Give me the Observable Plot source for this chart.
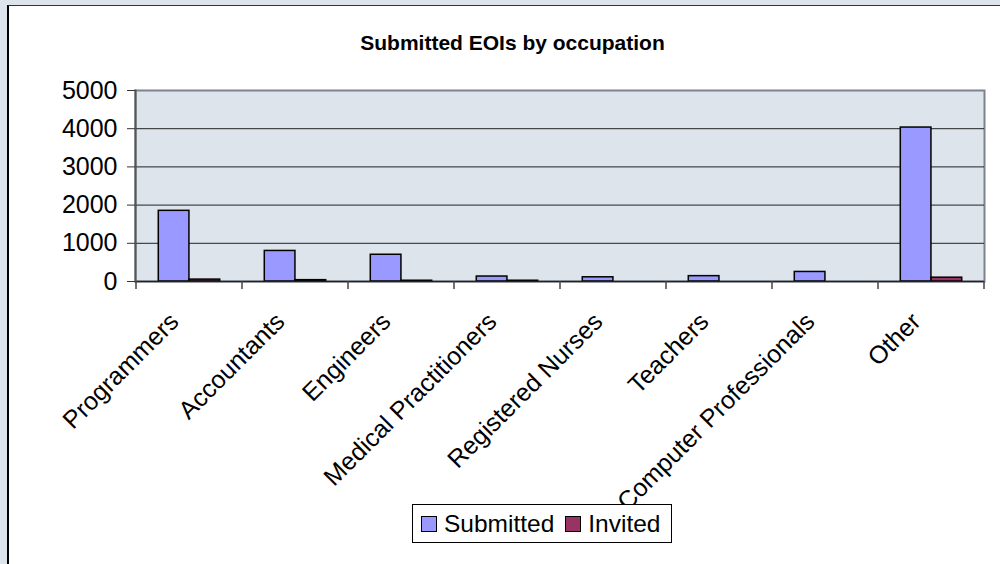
<!DOCTYPE html>
<html>
<head>
<meta charset="utf-8">
<script src="https://cdn.jsdelivr.net/npm/d3@7"></script>
<script src="https://cdn.jsdelivr.net/npm/@observablehq/plot@0.6"></script>
<style>
  html, body { margin: 0; padding: 0; }
  body { width: 1000px; height: 564px; overflow: hidden; background: #dee4ec; position: relative; font-family: "Liberation Sans", Arial, sans-serif; }
  #panel { position: absolute; left: 7px; top: 5px; width: 1100px; height: 700px; background: #fff; border-left: 2px solid #000; border-top: 1.5px solid #333; }
  #title { position: absolute; left: 0; top: 31px; width: 1025px; text-align: center; font-weight: bold; font-size: 21px; line-height: 24px; color: #000; }
  #chart { position: absolute; left: 0; top: 0; }
  #legend { position: absolute; left: 412px; top: 504px; width: 258px; height: 37px; border: 1px solid #000; background: #fff; display: flex; align-items: center; font-size: 24.5px; color: #000; }
  .sw { width: 14px; height: 14px; border: 1px solid #000; margin-left: 8px; margin-right: 7px; flex: none; }
  .lab { line-height: 24px; }
</style>
</head>
<body>
<div id="panel"></div>
<div id="chart"></div>
<div id="title"></div>
<div id="legend"></div>
<script>
// ---- data ----
const categories = ["Programmers", "Accountants", "Engineers", "Medical Practitioners", "Registered Nurses", "Teachers", "Computer Professionals", "Other"];
const submitted = [1850, 800, 700, 130, 110, 140, 250, 4030];
const invited = [50, 35, 20, 20, 0, 0, 0, 100];
const seriesNames = ["Submitted", "Invited"];
const seriesColors = ["#9999ff", "#993366"];
const yTicks = [0, 1000, 2000, 3000, 4000, 5000];
const titleText = "Submitted EOIs by occupation";

const rows = categories.map((c, i) => ({category: c, Submitted: submitted[i], Invited: invited[i]}));

// ---- layout ----
const W = 1000, H = 500;
const ml = 135, mr = 16, mt = 90, mb = H - 281;
const bw = (W - ml - mr) / categories.length;
const outer = bw * 0.21;
const barW = bw * 0.29;

const chart = Plot.plot({
  width: W,
  height: H,
  marginLeft: ml,
  marginRight: mr,
  marginTop: mt,
  marginBottom: mb,
  style: {background: "transparent", fontFamily: "Liberation Sans, Arial, sans-serif", color: "#000", overflow: "visible"},
  x: {domain: categories, padding: 0, label: null},
  y: {domain: [0, 5000], label: null},
  marks: [
    Plot.frame({fill: "#dee4ec", stroke: "#7b838d", strokeWidth: 2}),
    Plot.gridY(yTicks.filter(t => t > 0 && t < 5000), {stroke: "#222", strokeOpacity: 1, strokeWidth: 1}),
    Plot.barY(rows, {x: "category", y: seriesNames[0], fill: seriesColors[0], stroke: "#000", strokeWidth: 1.5, insetLeft: outer, insetRight: bw - outer - barW}),
    Plot.barY(rows.filter(d => d.Invited > 0), {x: "category", y: seriesNames[1], fill: seriesColors[1], stroke: "#000", strokeWidth: 1.5, insetLeft: outer + barW, insetRight: outer}),
    Plot.ruleY([0], {stroke: "#222", strokeWidth: 1.5}),
    Plot.frame({anchor: "left", stroke: "#555", strokeWidth: 2}),
    Plot.axisY({ticks: yTicks, tickFormat: d => String(d), tickSize: 8, tickPadding: 10, fontSize: 25, stroke: "#333"}),
    Plot.axisX({tickSize: 0, tickRotate: -45, tickPadding: 36, dx: -15, fontSize: 25})
  ]
});

// category boundary ticks, from the library's own scales
const xs = chart.scale("x"), ys = chart.scale("y");
const y0 = ys.apply(0);
const bounds = categories.map(c => xs.apply(c)).concat([xs.apply(categories[categories.length - 1]) + xs.bandwidth]);
d3.select(chart).append("g")
  .selectAll("line").data(bounds).join("line")
  .attr("x1", d => d).attr("x2", d => d)
  .attr("y1", y0).attr("y2", y0 + 8)
  .attr("stroke", "#444").attr("stroke-width", 1.5);

document.getElementById("chart").appendChild(chart);
document.getElementById("title").textContent = titleText;

const legend = document.getElementById("legend");
seriesNames.forEach((s, i) => {
  const sw = document.createElement("div");
  sw.className = "sw";
  sw.style.background = seriesColors[i];
  if (i > 0) sw.style.marginLeft = "11px";
  const lab = document.createElement("span");
  lab.className = "lab";
  lab.textContent = s;
  legend.appendChild(sw);
  legend.appendChild(lab);
});
</script>
</body>
</html>
